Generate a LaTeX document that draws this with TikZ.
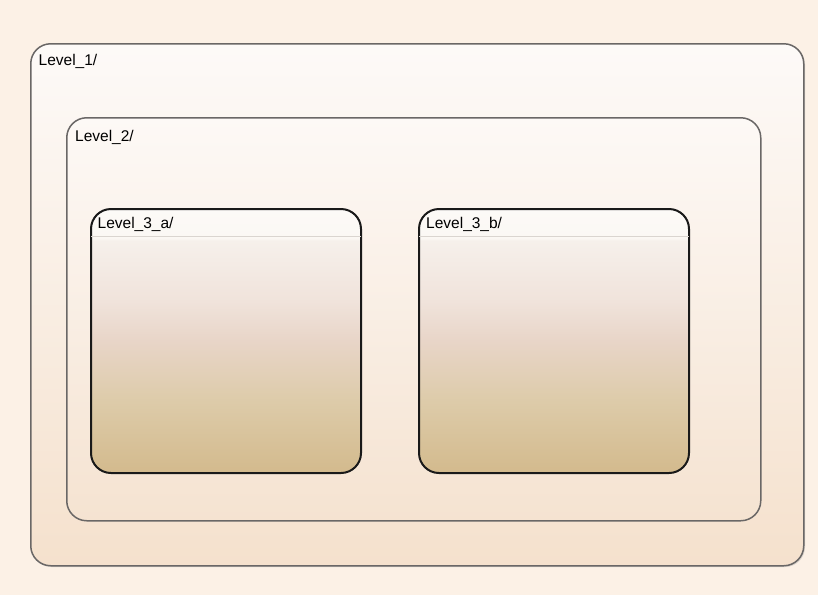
\documentclass[tikz,border=0pt]{standalone}
\usepackage{fontspec}
\setmainfont{Liberation Sans}
\usetikzlibrary{positioning,calc}
\definecolor{bgc}{HTML}{FCF1E6}
\definecolor{edgeA}{HTML}{6A6766}
\definecolor{hdrline}{HTML}{DAD5D0}
\definecolor{oneb}{HTML}{F5E1CD}
\definecolor{onet}{HTML}{FDFAF8}
\definecolor{twob}{HTML}{F5E3D1}
\definecolor{twot}{HTML}{FDF9F6}
\definecolor{thA}{HTML}{D3BA8D}
\definecolor{thB}{HTML}{DDCBA9}
\definecolor{thC}{HTML}{E8D5C8}
\definecolor{thD}{HTML}{F0E3DB}
\definecolor{thE}{HTML}{F6F0EB}
\definecolor{thF}{HTML}{FBF8F4}
\definecolor{thG}{HTML}{FCFAF7}
\pgfdeclareverticalshading{lvlone}{100bp}{color(0bp)=(oneb); color(25bp)=(oneb); color(75bp)=(onet); color(100bp)=(onet)}
\pgfdeclareverticalshading{lvltwo}{100bp}{color(0bp)=(twob); color(25bp)=(twob); color(75bp)=(twot); color(100bp)=(twot)}
\pgfdeclareverticalshading{lvlthree}{100bp}{color(0bp)=(thA); color(25bp)=(thA); color(38.5bp)=(thB); color(50bp)=(thC); color(57.5bp)=(thD); color(69bp)=(thE); color(69.5bp)=(thF); color(75bp)=(thG); color(100bp)=(thG)}
\tikzset{
  outerbox/.style={rectangle, rounded corners=20pt, draw=edgeA, line width=1.5pt, inner sep=0pt, anchor=north west},
  innerbox/.style={rectangle, rounded corners=20pt, draw=black!90, line width=2pt, inner sep=0pt, anchor=north west, shading=lvlthree},
  lbl/.style={font=\fontsize{15.5}{18}\selectfont, inner sep=0pt, anchor=base west, text=black}
}
\begin{document}
\begin{tikzpicture}[x=1pt,y=-1pt]
\fill[bgc] (0,0) rectangle (818,595);
\useasboundingbox (0,0) rectangle (818,595);
% shadows
\fill[black!40,opacity=0.35,rounded corners=20pt] (31.5,44.5) rectangle (805,567);
\fill[black!40,opacity=0.35,rounded corners=20pt] (67.5,118.5) rectangle (762,522);
\fill[black!40,opacity=0.35,rounded corners=20pt] (91.5,209.5) rectangle (362,474);
\fill[black!40,opacity=0.35,rounded corners=20pt] (419.5,209.5) rectangle (690,474);
% boxes
\node[outerbox, shading=lvlone, minimum width=773pt, minimum height=522pt] (l1) at (30,43) {};
\node[lbl] (l1t) at (38.5,65) {Level\_1/};
\node[outerbox, shading=lvltwo, minimum width=694pt, minimum height=403pt] (l2) at (66,117) {};
\node[lbl] (l2t) at (75,141) {Level\_2/};
\node[innerbox, minimum width=270pt, minimum height=264pt] (l3a) at (90,208) {};
\node[innerbox, minimum width=270pt, minimum height=264pt] (l3b) at (418,208) {};
\draw[hdrline, line width=1.5pt] ($(l3a.north west)+(1,28.5)$) -- ($(l3a.north east)+(-1,28.5)$);
\draw[hdrline, line width=1.5pt] ($(l3b.north west)+(1,28.5)$) -- ($(l3b.north east)+(-1,28.5)$);
\node[lbl] (l3at) at (97.5,228) {Level\_3\_a/};
\node[lbl] (l3bt) at (426,228) {Level\_3\_b/};
\end{tikzpicture}
\end{document}
